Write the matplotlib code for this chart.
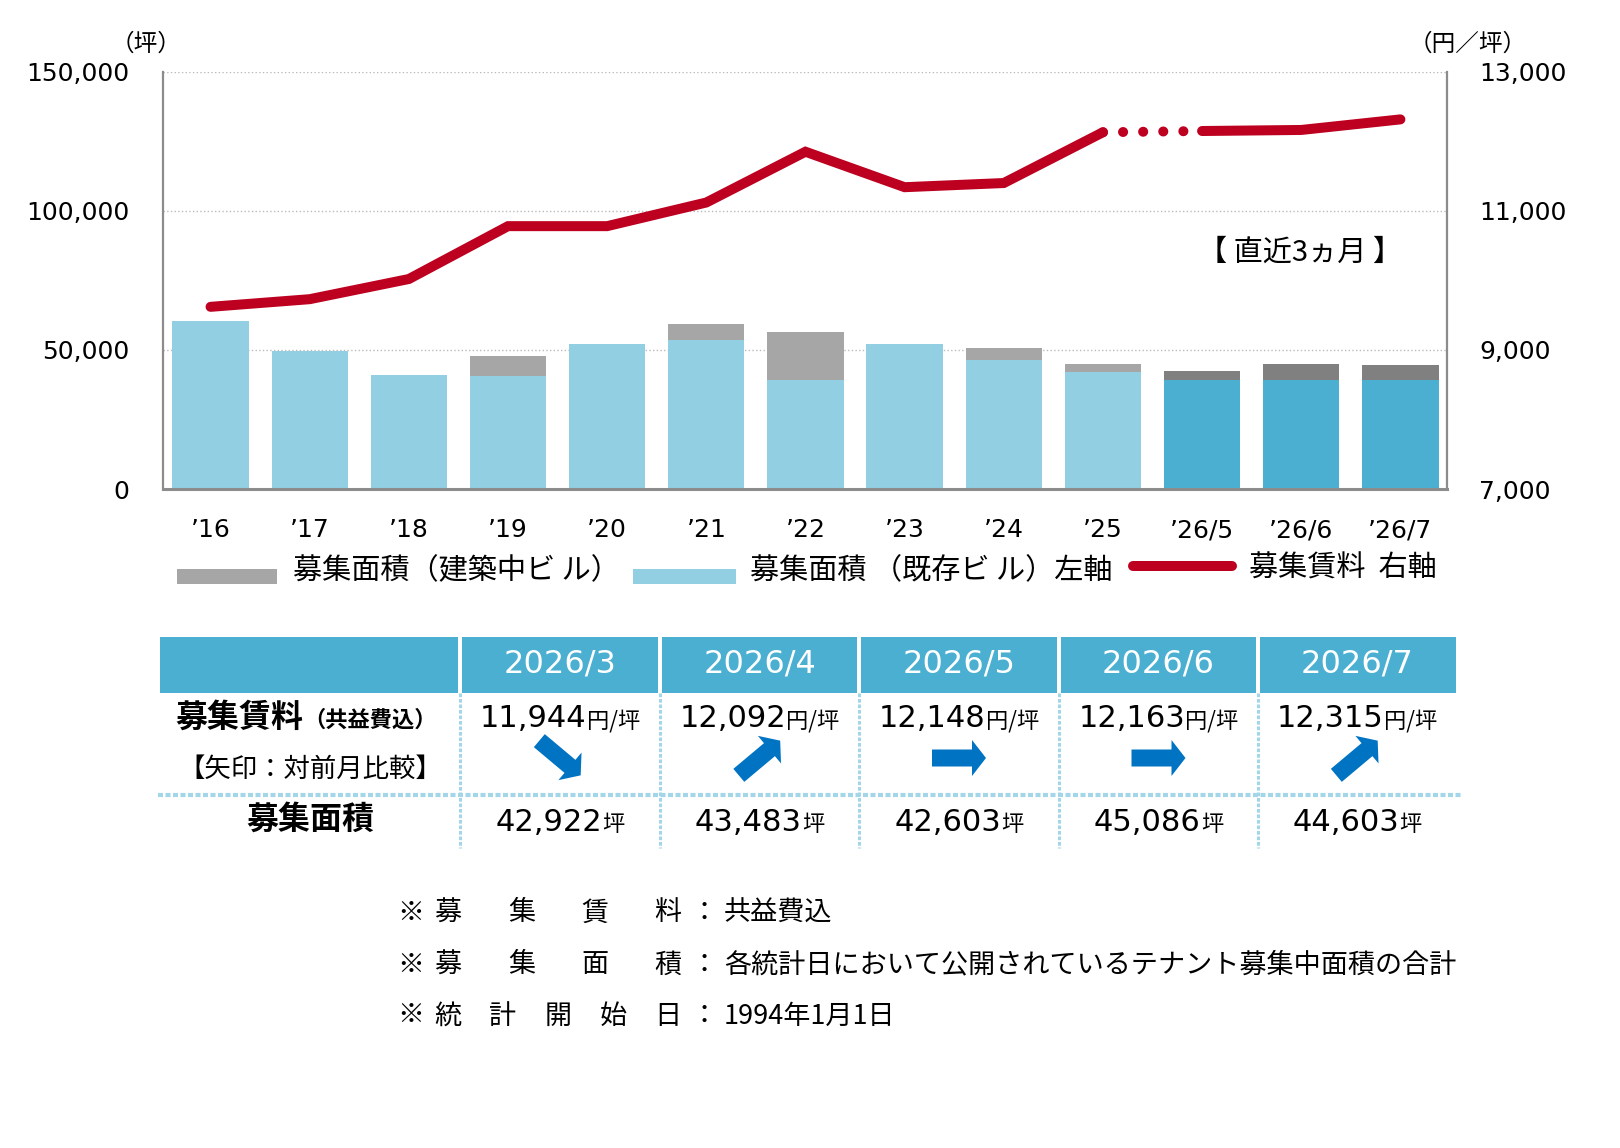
import math
import matplotlib
matplotlib.use('Agg')
import matplotlib.pyplot as plt
from matplotlib.patches import Rectangle, FancyArrow

plt.rcParams['font.family'] = ['DejaVu Sans', 'Noto Sans CJK JP']
CJK = ['Noto Sans CJK JP', 'DejaVu Sans']
LAT = ['DejaVu Sans', 'Noto Sans CJK JP']

# chart data ('16-'25 yearly, then monthly)
labels = ['’16', '’17', '’18', '’19', '’20', '’21', '’22', '’23', '’24', '’25',
          '’26/5', '’26/6', '’26/7']
existing = [60500, 49600, 40900, 40700, 52300, 53500, 39300, 52300, 46500, 42200,
            39300, 39300, 39300]
building = [0, 0, 0, 7100, 0, 5800, 17000, 0, 4300, 2800, 3303, 5786, 5303]
rent = [9620, 9730, 10020, 10780, 10780, 11120, 11850, 11340, 11400, 12130,
        12148, 12163, 12315]
n_year = 10

left_ticks = [0, 50000, 100000, 150000]
right_ticks = [7000, 9000, 11000, 13000]

# table data
months = ['2026/3', '2026/4', '2026/5', '2026/6', '2026/7']
tbl_rent = ['11,944', '12,092', '12,148', '12,163', '12,315']
tbl_area = ['42,922', '43,483', '42,603', '45,086', '44,603']
arrows = ['down', 'up', 'flat', 'flat', 'up']

notes = [(['募', '集', '賃', '料'], '共益費込'),
         (['募', '集', '面', '積'], '各統計日において公開されているテナント募集中面積の合計'),
         (['統', '計', '開', '始', '日'], '1994年1月1日')]

C_LIGHT = '#93CFE2'
C_DARK = '#4AAFD1'
C_GRAY = '#A6A6A6'
C_DGRAY = '#808080'
C_RED = '#BE0020'
C_ARROW = '#0073C2'
C_AXIS = '#8C8C8C'
C_SEP = '#A3D6E8'

fig = plt.figure(figsize=(16.2, 11.48), dpi=100)

# ---- bar + line chart
ax = fig.add_axes([0.1006, 0.5740, 0.7926, 0.3635])
x = list(range(len(labels)))
base_cols = [C_LIGHT if i < n_year else C_DARK for i in x]
top_cols = [C_GRAY if i < n_year else C_DGRAY for i in x]
ax.bar(x, existing, width=0.77, color=base_cols, zorder=2)
ax.bar(x, building, bottom=existing, width=0.77, color=top_cols, zorder=2)
ax.set_xlim(-0.48, 12.47)
ax.set_ylim(0, 150000)
ax.set_yticks(left_ticks)
ax.set_yticklabels([f'{v:,}' for v in left_ticks])
ax.set_xticks(x)
ax.set_xticklabels(labels)
ax.yaxis.grid(True, ls=':', color='#BBBBBB', lw=1)
ax.set_axisbelow(True)
ax.tick_params(axis='both', length=0, labelsize=18, colors='black')
ax.tick_params(axis='y', pad=24)
ax.tick_params(axis='x', pad=21)
for s in ['top', 'right']:
    ax.spines[s].set_visible(False)
ax.spines['left'].set_color(C_AXIS)
ax.spines['left'].set_linewidth(1.6)
ax.spines['bottom'].set_color(C_AXIS)
ax.spines['bottom'].set_linewidth(2.2)

ax2 = ax.twinx()
ax2.set_ylim(7000, 13000)
ax2.set_yticks(right_ticks)
ax2.set_yticklabels([f'{v:,}' for v in right_ticks])
ax2.tick_params(axis='y', length=0, labelsize=18, pad=23)
for s in ['top', 'left', 'bottom']:
    ax2.spines[s].set_visible(False)
ax2.spines['right'].set_color(C_AXIS)
ax2.spines['right'].set_linewidth(1.6)

ax2.plot(x[:n_year], rent[:n_year], color=C_RED, lw=7.2,
         solid_capstyle='round', solid_joinstyle='miter')
ax2.plot(x[n_year - 1:n_year + 1], rent[n_year - 1:n_year + 1], color=C_RED, lw=7.2,
         ls=(0, (0.01, 2.0)), dash_capstyle='round')
ax2.plot(x[n_year:], rent[n_year:], color=C_RED, lw=7.2,
         solid_capstyle='round', solid_joinstyle='miter')

# ---- overlay in pixel coords for legend, table, notes
ov = fig.add_axes([0, 0, 1, 1])
ov.set_xlim(0, 1620)
ov.set_ylim(1148, 0)
ov.axis('off')
r = fig.canvas.get_renderer()

ov.text(146, 44, '（坪）', ha='center', va='center', fontsize=17, family=CJK)
ov.text(1468, 44, '（円／坪）', ha='center', va='center', fontsize=17, family=CJK)
ov.text(1300, 253, '【 直近3ヵ月 】', ha='center', va='center', fontsize=21, family=CJK)

# legend
ov.add_patch(Rectangle((177, 569), 100, 15, color=C_GRAY, lw=0))
ov.text(293, 571, '募集面積（建築中ビ ル）', va='center', fontsize=21, family=CJK)
ov.add_patch(Rectangle((633, 569), 103, 15, color=C_LIGHT, lw=0))
ov.text(750, 571, '募集面積 （既存ビ ル）左軸', va='center', fontsize=21, family=CJK)
ov.plot([1133, 1232], [566, 566], color=C_RED, lw=7.2, solid_capstyle='round')
ov.text(1249, 569, '募集賃料  右軸', va='center', fontsize=21, family=CJK)


def pair(xc, yb, big, small, fs1, fs2, fam1, fam2, weight='normal'):
    t1 = ov.text(0, yb, big, fontsize=fs1, va='baseline', family=fam1, fontweight=weight)
    t2 = ov.text(0, yb, small, fontsize=fs2, va='baseline', family=fam2, fontweight=weight)
    w1 = t1.get_window_extent(renderer=r).width
    w2 = t2.get_window_extent(renderer=r).width
    x0 = xc - (w1 + w2) / 2
    t1.set_x(x0)
    t2.set_x(x0 + w1)


def arrow(xc, yc, kind):
    ang = math.radians({'up': 40, 'flat': 0, 'down': -40}[kind])
    L = 54
    dx = L * math.cos(ang)
    dy = -L * math.sin(ang)
    ov.add_patch(FancyArrow(xc - dx / 2, yc - dy / 2, dx, dy, width=17, head_width=36,
                            head_length=14, length_includes_head=True,
                            color=C_ARROW, lw=0))


# table
bounds = [160, 460, 660, 859, 1059, 1258, 1456]
for i in range(len(bounds) - 1):
    x0 = bounds[i] + (2 if i > 0 else 0)
    x1 = bounds[i + 1] - (2 if i < len(bounds) - 2 else 0)
    ov.add_patch(Rectangle((x0, 637), x1 - x0, 56, color=C_DARK, lw=0))
for b in bounds[1:-1]:
    ov.plot([b, b], [693, 848], color=C_SEP, lw=2.2, ls=(0, (1.2, 0.6)))
ov.plot([158, 1462], [795, 795], color=C_SEP, lw=3, ls=(0, (1.2, 0.6)))

for i, m in enumerate(months):
    xc = (bounds[i + 1] + bounds[i + 2]) / 2
    ov.text(xc, 664, m, ha='center', va='center', color='white', fontsize=23, family=LAT)
    pair(xc, 727, tbl_rent[i], '円/坪', 22, 16, LAT, CJK)
    arrow(xc, 758, arrows[i])
    pair(xc, 831, tbl_area[i], '坪', 22, 16, LAT, CJK)

pair(306, 727, '募集賃料', '（共益費込）', 23, 16, CJK, CJK, weight='bold')
ov.text(310, 769, '【矢印：対前月比較】', ha='center', va='center', fontsize=19, family=CJK)
ov.text(310, 820, '募集面積', ha='center', va='center', fontsize=23, family=CJK,
        fontweight='bold')

# notes
note_y = [913, 965, 1016]
for (chars, body), y in zip(notes, note_y):
    ov.text(411, y, '※', ha='center', va='center', fontsize=19.5, family=CJK)
    n = len(chars)
    for k, c in enumerate(chars):
        cx = 448 + (668 - 448) * k / (n - 1)
        ov.text(cx, y, c, ha='center', va='center', fontsize=19.5, family=CJK)
    ov.text(704, y, '：', ha='center', va='center', fontsize=19.5, family=CJK)
    ov.text(724, y, body, ha='left', va='center', fontsize=19.5, family=CJK)

fig.savefig('out.png', dpi=100)
